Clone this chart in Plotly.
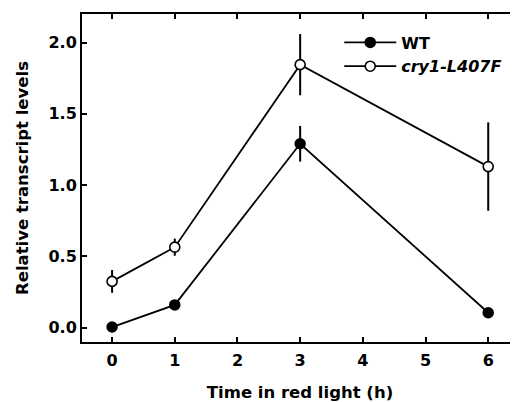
import plotly.graph_objects as go

time_h = [0, 1, 3, 6]
wt_vals = [0.005, 0.16, 1.29, 0.105]
wt_err = [0.02, 0.02, 0.125, 0.02]
cry_vals = [0.325, 0.565, 1.845, 1.13]
cry_err = [0.08, 0.06, 0.215, 0.31]
x_ticks = [0, 1, 2, 3, 4, 5, 6]
y_ticks = [0.0, 0.5, 1.0, 1.5, 2.0]

FONT = "DejaVu Sans"
fig = go.Figure()
fig.add_trace(go.Scatter(
    x=time_h, y=wt_vals, name="<b>WT</b>", mode="lines+markers",
    line=dict(color="black", width=1.8),
    marker=dict(symbol="circle", size=10, color="black", line=dict(color="black", width=1.5)),
    error_y=dict(type="data", array=wt_err, visible=True, width=0, thickness=2, color="black"),
))
fig.add_trace(go.Scatter(
    x=time_h, y=cry_vals, name="<b><i>cry1-L407F</i></b>", mode="lines+markers",
    line=dict(color="black", width=1.8),
    marker=dict(symbol="circle", size=10, color="white", line=dict(color="black", width=1.6)),
    error_y=dict(type="data", array=cry_err, visible=True, width=0, thickness=2, color="black"),
))

axis_font = dict(family=FONT, size=16, color="black")
fig.update_layout(
    width=510, height=394,
    margin=dict(l=74, r=0, t=6, b=60, autoexpand=False),
    paper_bgcolor="white", plot_bgcolor="white",
    font=dict(family=FONT, size=16, color="black"),
    showlegend=True,
    legend=dict(x=0.59, y=0.965, xanchor="left", yanchor="top",
                bgcolor="rgba(0,0,0,0)", font=dict(family=FONT, size=16, color="black"),
                itemwidth=52, tracegroupgap=0),
    xaxis=dict(range=[-0.48, 6.475], tickvals=x_ticks, ticktext=[f"<b>{v}</b>" for v in x_ticks],
               ticks="inside", ticklen=5, tickwidth=1.5, tickcolor="black",
               showline=True, linewidth=2, linecolor="black", mirror="ticks",
               showgrid=False, zeroline=False, tickfont=axis_font, automargin=False,
               ticklabelstandoff=3,
               title=dict(text="<b>Time in red light (h)</b>", font=dict(family=FONT, size=16.5), standoff=17)),
    yaxis=dict(range=[-0.1, 2.2], tickvals=y_ticks, ticktext=[f"<b>{v:.1f}</b>" for v in y_ticks],
               ticks="inside", ticklen=5, tickwidth=1.5, tickcolor="black",
               showline=True, linewidth=2, linecolor="black", mirror="ticks",
               showgrid=False, zeroline=False, tickfont=axis_font, automargin=False,
               title=dict(text="<b>Relative transcript levels</b>", font=dict(family=FONT, size=16.5), standoff=16)),
)
fig.write_html("out.html")
